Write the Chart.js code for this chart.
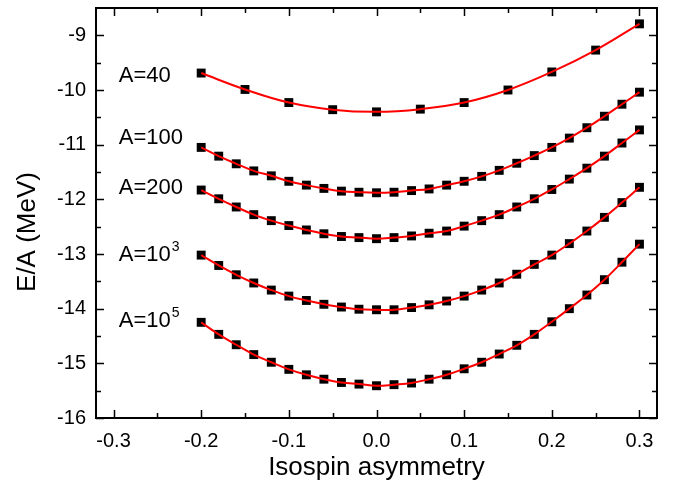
<!DOCTYPE html>
<html><head><meta charset="utf-8">
<script src="https://cdn.jsdelivr.net/npm/chart.js@4/dist/chart.umd.min.js"></script>
<style>html,body{margin:0;padding:0;background:#fff}#wrap{width:680px;height:483px;position:relative}</style>
</head><body><div id="wrap"><canvas id="c"></canvas></div>
<script>
// ---- data ----
const xCoarse = [-0.2,-0.15,-0.1,-0.05,0,0.05,0.1,0.15,0.2,0.25,0.3];
const xFine = [-0.2,-0.18,-0.16,-0.14,-0.12,-0.1,-0.08,-0.06,-0.04,-0.02,0,0.02,0.04,0.06,0.08,0.1,0.12,0.14,0.16,0.18,0.2,0.22,0.24,0.26,0.28,0.3];
const eA40 = [-9.69,-9.99,-10.23,-10.36,-10.40,-10.35,-10.23,-10.00,-9.67,-9.27,-8.79];
const eA100 = [-11.05,-11.21,-11.35,-11.48,-11.57,-11.67,-11.74,-11.80,-11.85,-11.87,-11.88,-11.87,-11.84,-11.81,-11.74,-11.67,-11.58,-11.47,-11.34,-11.20,-11.05,-10.88,-10.69,-10.48,-10.26,-10.04];
const eA200 = [-11.83,-11.99,-12.14,-12.28,-12.39,-12.48,-12.56,-12.63,-12.68,-12.70,-12.72,-12.70,-12.67,-12.62,-12.58,-12.49,-12.39,-12.28,-12.14,-11.99,-11.82,-11.63,-11.43,-11.21,-10.97,-10.73];
const eA1e3 = [-13.02,-13.21,-13.38,-13.53,-13.66,-13.77,-13.85,-13.92,-13.97,-14.01,-14.02,-14.02,-13.98,-13.93,-13.86,-13.77,-13.66,-13.53,-13.37,-13.19,-13.02,-12.81,-12.58,-12.33,-12.06,-11.78];
const eA1e5 = [-14.25,-14.47,-14.66,-14.84,-14.98,-15.11,-15.21,-15.29,-15.35,-15.38,-15.41,-15.39,-15.36,-15.29,-15.21,-15.10,-14.98,-14.83,-14.67,-14.47,-14.24,-14.00,-13.75,-13.47,-13.15,-12.82];

const seriesNames = ["A=40","A=100","A=200","A=10","A=10"];
const seriesSup = ["","","","3","5"];
const labelX = -0.294;
const labelY = [-9.85,-10.99,-11.90,-13.13,-14.34];

const xTicksMajor = [-0.3,-0.2,-0.1,0.0,0.1,0.2,0.3];
const xTicksMinor = [-0.25,-0.15,-0.05,0.05,0.15,0.25];
const yTicksMajor = [-16,-15,-14,-13,-12,-11,-10,-9];
const yTicksMinor = [-15.5,-14.5,-13.5,-12.5,-11.5,-10.5,-9.5];
const xTitle = "Isospin asymmetry";
const yTitle = "E/A (MeV)";

// ---- build ----
const FONT = "'Liberation Sans', Arial, sans-serif";
const seriesX = [xCoarse, xFine, xFine, xFine, xFine];
const seriesY = [eA40, eA100, eA200, eA1e3, eA1e5];
const datasets = [];
seriesY.forEach((ys, i) => {
  const pts = ys.map((v, k) => ({x: seriesX[i][k], y: v}));
  datasets.push({type:'line', label: seriesNames[i]+seriesSup[i]+' fit', data: pts, borderColor:'#ff0000', borderWidth:2, pointRadius:0, tension:0.4, fill:false, order:0});
  datasets.push({type:'scatter', label: seriesNames[i]+seriesSup[i], data: pts, pointStyle:'rect', pointRadius:6.3, pointHoverRadius:6.3, backgroundColor:'#000', borderWidth:0, order:1});
});

const decor = {
  id:'decor',
  afterDraw(chart){
    const {ctx, chartArea:a, scales:{x, y}} = chart;
    ctx.save();
    ctx.strokeStyle = '#000';
    ctx.lineWidth = 1.5;
    ctx.beginPath();
    const vt = (vals, len) => vals.forEach(v => {
      const px = Math.round(x.getPixelForValue(v)) + 0.5;
      ctx.moveTo(px, a.bottom); ctx.lineTo(px, a.bottom - len);
      ctx.moveTo(px, a.top); ctx.lineTo(px, a.top + len);
    });
    const ht = (vals, len) => vals.forEach(v => {
      const py = Math.round(y.getPixelForValue(v)) + 0.5;
      ctx.moveTo(a.left, py); ctx.lineTo(a.left + len, py);
      ctx.moveTo(a.right, py); ctx.lineTo(a.right - len, py);
    });
    vt(xTicksMajor, 8); vt(xTicksMinor, 5);
    ht(yTicksMajor, 8); ht(yTicksMinor, 5);
    ctx.stroke();
    ctx.lineWidth = 2;
    ctx.strokeRect(a.left, a.top, a.right - a.left, a.bottom - a.top);

    ctx.fillStyle = '#000';
    // curve labels
    seriesNames.forEach((t, i) => {
      const px = x.getPixelForValue(labelX), py = y.getPixelForValue(labelY[i]);
      ctx.font = '22px ' + FONT;
      ctx.textAlign = 'left'; ctx.textBaseline = 'alphabetic';
      ctx.fillText(t, px, py);
      if (seriesSup[i]) {
        const w = ctx.measureText(t).width;
        ctx.font = '14px ' + FONT;
        ctx.fillText(seriesSup[i], px + w + 1, py - 10);
      }
    });
    // axis titles
    ctx.font = '26px ' + FONT;
    ctx.textAlign = 'center'; ctx.textBaseline = 'alphabetic';
    ctx.fillText(xTitle, (a.left + a.right) / 2, 475);
    ctx.translate(35, 232);
    ctx.rotate(-Math.PI / 2);
    ctx.fillText(yTitle, 0, 0);
    ctx.restore();
  }
};

new Chart(document.getElementById('c'), {
  data: { datasets },
  options: {
    responsive: true, maintainAspectRatio: false, animation: false,
    layout: { padding: { top: 8, right: 23, left: 0, bottom: 0 } },
    plugins: { legend: { display: false }, tooltip: { enabled: false } },
    scales: {
      x: {
        type: 'linear', min: -0.32, max: 0.32,
        afterBuildTicks: s => { s.ticks = xTicksMajor.map(v => ({value: v})); },
        afterFit: s => { s.height = 65; s.paddingLeft = 0; s.paddingRight = 0; },
        grid: { display: false, drawTicks: false },
        border: { display: false },
        ticks: { color: '#000', padding: 11, maxRotation: 0, autoSkip: false,
          font: { family: FONT, size: 20 },
          callback: v => Number(v).toFixed(1) }
      },
      y: {
        type: 'linear', min: -16, max: -8.5,
        afterBuildTicks: s => { s.ticks = yTicksMajor.map(v => ({value: v})); },
        afterFit: s => { s.width = 96; s.paddingTop = 0; s.paddingBottom = 0; },
        grid: { display: false, drawTicks: false },
        border: { display: false },
        ticks: { color: '#000', padding: 10, autoSkip: false,
          font: { family: FONT, size: 20 },
          callback: v => String(v) }
      }
    }
  },
  plugins: [decor]
});
</script>
</body></html>
